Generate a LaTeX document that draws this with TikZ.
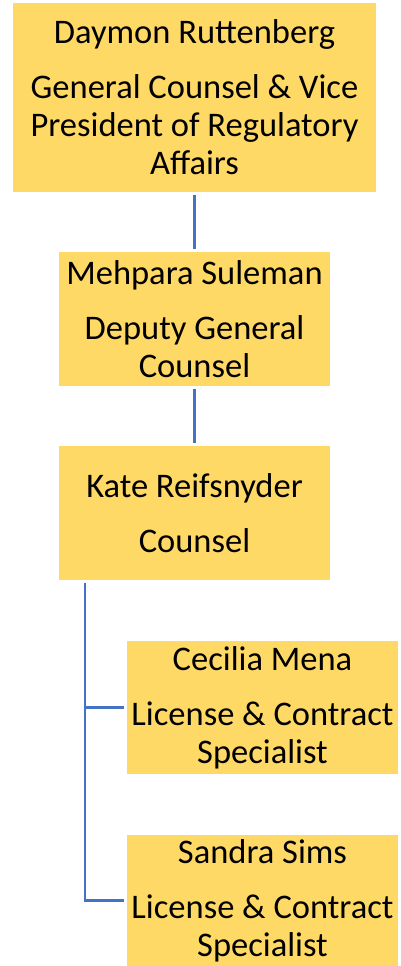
\documentclass[tikz,border=0pt]{standalone}
\usepackage{fontspec}
\setmainfont{Carlito}
\usetikzlibrary{positioning}

\definecolor{boxgold}{RGB}{255,217,102}
\definecolor{linkblue}{RGB}{68,114,196}

\begin{document}
\begin{tikzpicture}[
  x=1pt, y=1pt,
  person/.style={
    rectangle, fill=boxgold, inner sep=0pt, align=center,
    font=\fontsize{34.5}{38}\selectfont
  },
  link/.style={draw=linkblue, line width=2.2pt, shorten <=3pt, shorten >=2.5pt}
]
\useasboundingbox (0,0) rectangle (400,966);

% === People ===
\node[person, minimum width=363, minimum height=189] (daymon) at (194.5, 868.5)
  {Daymon Ruttenberg\\[17pt]General Counsel \& Vice\\President of Regulatory\\Affairs};
\node[person, minimum width=271, minimum height=134] (mehpara) at (194.5, 647)
  {Mehpara Suleman\\[17pt]Deputy General\\Counsel};
\node[person, minimum width=271, minimum height=134] (kate) at (194.5, 453)
  {Kate Reifsnyder\\[17pt]Counsel};
\node[person, minimum width=271, minimum height=133] (cecilia) at (262.5, 258.5)
  {Cecilia Mena\\[17pt]License \& Contract\\Specialist};
\node[person, minimum width=271, minimum height=131] (sandra) at (262.5, 65.5)
  {Sandra Sims\\[17pt]License \& Contract\\Specialist};

% === Reporting lines ===
\draw[link] (daymon) -- (mehpara);
\draw[link] (mehpara) -- (kate);

% Counsel to specialists
\coordinate (kate drop) at (85, 386);
\draw[link] (kate drop) |- (cecilia.west);
\draw[link] (kate drop) |- (sandra.west);

\end{tikzpicture}
\end{document}
